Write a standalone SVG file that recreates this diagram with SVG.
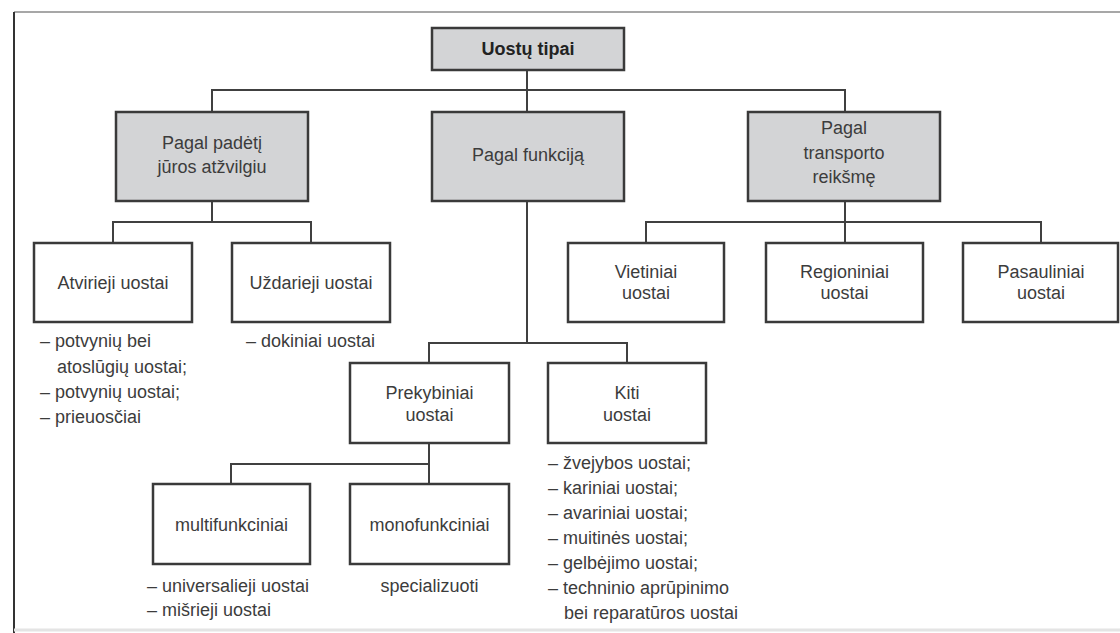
<svg xmlns="http://www.w3.org/2000/svg" width="1120" height="633" viewBox="0 0 1120 633">
<style>
.box{fill:#ffffff;stroke:#3a3a3a;stroke-width:2.5}
.gbox{fill:#d3d4d6;stroke:#3a3a3a;stroke-width:2.5}
.conn{fill:none;stroke:#404040;stroke-width:2}
text{font-family:"Liberation Sans",Arial,sans-serif;font-size:18px;fill:#3c3c3c}
.c{text-anchor:middle}
.b{font-weight:bold;fill:#222}
</style>
<rect width="1120" height="633" fill="#ffffff"/>
<g id="frame">
<line x1="14" y1="12" x2="1120" y2="12" stroke="#8a8a8a" stroke-width="1.5"/>
<line x1="14" y1="12" x2="14" y2="633" stroke="#333" stroke-width="2"/>
<line x1="14" y1="630" x2="1120" y2="630" stroke="#e4e4e4" stroke-width="3"/>
</g>
<g id="connectors">
<path class="conn" d="M527,70 V112"/>
<path class="conn" d="M212,112 V90 H845 V112"/>
<path class="conn" d="M212,201 V222"/>
<path class="conn" d="M113,243 V222 H311 V243"/>
<path class="conn" d="M845,201 V243"/>
<path class="conn" d="M646,243 V222 H1041 V243"/>
<path class="conn" d="M527,201 V343"/>
<path class="conn" d="M429,363 V343 H627 V363"/>
<path class="conn" d="M429,443 V484"/>
<path class="conn" d="M231,484 V464 H429"/>
</g>
<g id="root">
<rect class="gbox" x="432" y="28" width="192" height="42"/>
<text class="c b" x="528" y="55">Uostų tipai</text>
</g>
<g id="pagal-padeti">
<rect class="gbox" x="116" y="112" width="192" height="89"/>
<text class="c" x="212" y="149">Pagal padėtį</text>
<text class="c" x="212" y="173">jūros atžvilgiu</text>
</g>
<g id="pagal-funkcija">
<rect class="gbox" x="432" y="112" width="192" height="89"/>
<text class="c" x="528" y="161">Pagal funkciją</text>
</g>
<g id="pagal-transporto">
<rect class="gbox" x="748" y="112" width="192" height="89"/>
<text class="c" x="844" y="134">Pagal</text>
<text class="c" x="844" y="159">transporto</text>
<text class="c" x="844" y="183">reikšmę</text>
</g>
<g id="atvirieji">
<rect class="box" x="34" y="243" width="158" height="79"/>
<text class="c" x="113" y="289">Atvirieji uostai</text>
</g>
<g id="atvirieji-list">
<text x="40" y="347">– potvynių bei</text>
<text x="57" y="373">atoslūgių uostai;</text>
<text x="40" y="398">– potvynių uostai;</text>
<text x="40" y="423">– prieuosčiai</text>
</g>
<g id="uzdarieji">
<rect class="box" x="232" y="243" width="158" height="79"/>
<text class="c" x="311" y="289">Uždarieji uostai</text>
</g>
<g id="uzdarieji-list">
<text x="246" y="347">– dokiniai uostai</text>
</g>
<g id="vietiniai">
<rect class="box" x="568" y="243" width="156" height="79"/>
<text class="c" x="646" y="278">Vietiniai</text>
<text class="c" x="646" y="299">uostai</text>
</g>
<g id="regioniniai">
<rect class="box" x="766" y="243" width="157" height="79"/>
<text class="c" x="844.5" y="278">Regioniniai</text>
<text class="c" x="844.5" y="299">uostai</text>
</g>
<g id="pasauliniai">
<rect class="box" x="963" y="243" width="155" height="79"/>
<text class="c" x="1041" y="278">Pasauliniai</text>
<text class="c" x="1041" y="299">uostai</text>
</g>
<g id="prekybiniai">
<rect class="box" x="350" y="363" width="159" height="80"/>
<text class="c" x="429.5" y="399">Prekybiniai</text>
<text class="c" x="429.5" y="421">uostai</text>
</g>
<g id="kiti">
<rect class="box" x="548" y="363" width="158" height="80"/>
<text class="c" x="627" y="399">Kiti</text>
<text class="c" x="627" y="421">uostai</text>
</g>
<g id="kiti-list">
<text x="548" y="469">– žvejybos uostai;</text>
<text x="548" y="494">– kariniai uostai;</text>
<text x="548" y="519">– avariniai uostai;</text>
<text x="548" y="544">– muitinės uostai;</text>
<text x="548" y="569">– gelbėjimo uostai;</text>
<text x="548" y="594">– techninio aprūpinimo</text>
<text x="564" y="619">bei reparatūros uostai</text>
</g>
<g id="multifunkciniai">
<rect class="box" x="153" y="484" width="157" height="80"/>
<text class="c" x="231.5" y="531">multifunkciniai</text>
</g>
<g id="multi-list">
<text x="147" y="592">– universalieji uostai</text>
<text x="147" y="616">– mišrieji uostai</text>
</g>
<g id="monofunkciniai">
<rect class="box" x="350" y="484" width="159" height="80"/>
<text class="c" x="429.5" y="531">monofunkciniai</text>
</g>
<g id="mono-list">
<text class="c" x="429.5" y="592">specializuoti</text>
</g>
</svg>
